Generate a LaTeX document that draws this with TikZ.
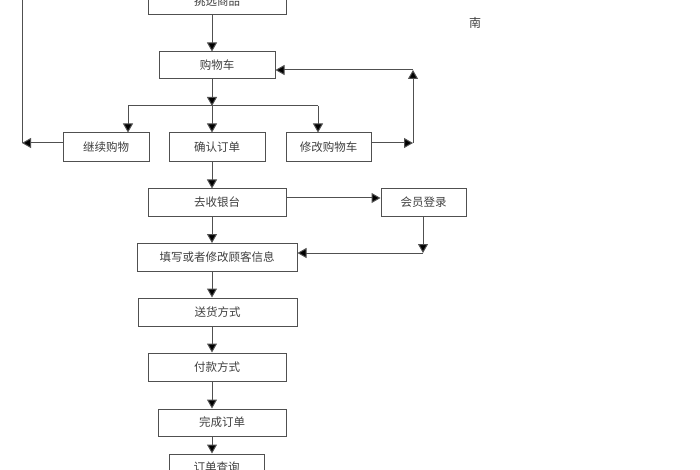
\documentclass[tikz,border=0pt]{standalone}
\usepackage{fontspec}
\newfontfamily\cjk{Noto Sans CJK SC}
\usetikzlibrary{arrows.meta}
\definecolor{linec}{HTML}{505050}
\definecolor{textc}{HTML}{404040}
\tikzset{
  box/.style={draw=linec, line width=1pt, rectangle, inner sep=0pt, font=\cjk\fontsize{11.5}{12}\selectfont, text=textc},
  arr/.style={draw=linec, line width=1pt, -{Triangle[length=9pt,width=10pt,fill=black]}},
  ln/.style={draw=linec, line width=1pt},
}
\begin{document}
\begin{tikzpicture}[x=1pt,y=-1pt]
\useasboundingbox[fill=white] (0,0) rectangle (700,470);
\begin{scope}
\clip (0,0) rectangle (700,470);
\node[box, minimum width=138pt, minimum height=27pt] (pick) at (217,1.5) {挑选商品};
\node[box, minimum width=116pt, minimum height=27pt] (cart) at (217,65.5) {购物车};
\node[box, minimum width=86pt, minimum height=29pt] (cont) at (106,147.5) {继续购物};
\node[box, minimum width=96pt, minimum height=29pt] (confirm) at (217,147.5) {确认订单};
\node[box, minimum width=85pt, minimum height=29pt] (modify) at (328.5,147.5) {修改购物车};
\node[box, minimum width=138pt, minimum height=27pt] (checkout) at (217,202.5) {去收银台};
\node[box, minimum width=85pt, minimum height=27pt] (login) at (423.5,202.5) {会员登录};
\node[box, minimum width=160pt, minimum height=28pt] (fill) at (217,257.5) {填写或者修改顾客信息};
\node[box, minimum width=159pt, minimum height=28pt] (ship) at (217.5,312) {送货方式};
\node[box, minimum width=138pt, minimum height=28pt] (pay) at (217,367) {付款方式};
\node[box, minimum width=128pt, minimum height=27pt] (done) at (222,422.5) {完成订单};
\node[box, minimum width=95pt, minimum height=27pt] (query) at (216.5,467.5) {订单查询};
\node[font=\cjk\fontsize{12}{12}\selectfont, text=textc] (south) at (475,23) {南};

\coordinate (spine) at (212,0);
\coordinate (junc) at (212,106);
\coordinate (jl) at (128,106);
\coordinate (jr) at (318,106);
\coordinate (lc) at (22,143);
\coordinate (ltop) at (22,-20);
\coordinate (rb) at (413,143);
\coordinate (rt) at (413,70);
\coordinate (ly) at (0,198);
\coordinate (lf) at (423,253);

\draw[arr] (pick.south -| spine) -- (cart.north -| spine);
\draw[arr] (cart.south -| spine) -- (junc);
\draw[ln] (jl) -- (jr);
\draw[arr] (jl) -- (cont.north -| jl);
\draw[arr] (jr) -- (modify.north -| jr);
\draw[arr] (junc) -- (confirm.north -| spine);
\draw[arr] (cont.west |- lc) -- (lc);
\draw[ln] (lc) -- (ltop);
\draw[arr] (modify.east |- rb) -- (rb);
\draw[arr] (rb) -- (rt);
\draw[arr] (rt) -- (cart.east |- rt);
\draw[arr] (confirm.south -| spine) -- (checkout.north -| spine);
\draw[arr] (checkout.east |- ly) -- (login.west |- ly);
\draw[arr] (login.south -| lf) -- (lf);
\draw[arr] (lf) -- (fill.east |- lf);
\draw[arr] (checkout.south -| spine) -- (fill.north -| spine);
\draw[arr] (fill.south -| spine) -- (ship.north -| spine);
\draw[arr] (ship.south -| spine) -- (pay.north -| spine);
\draw[arr] (pay.south -| spine) -- (done.north -| spine);
\draw[arr] (done.south -| spine) -- (query.north -| spine);
\end{scope}
\end{tikzpicture}
\end{document}
